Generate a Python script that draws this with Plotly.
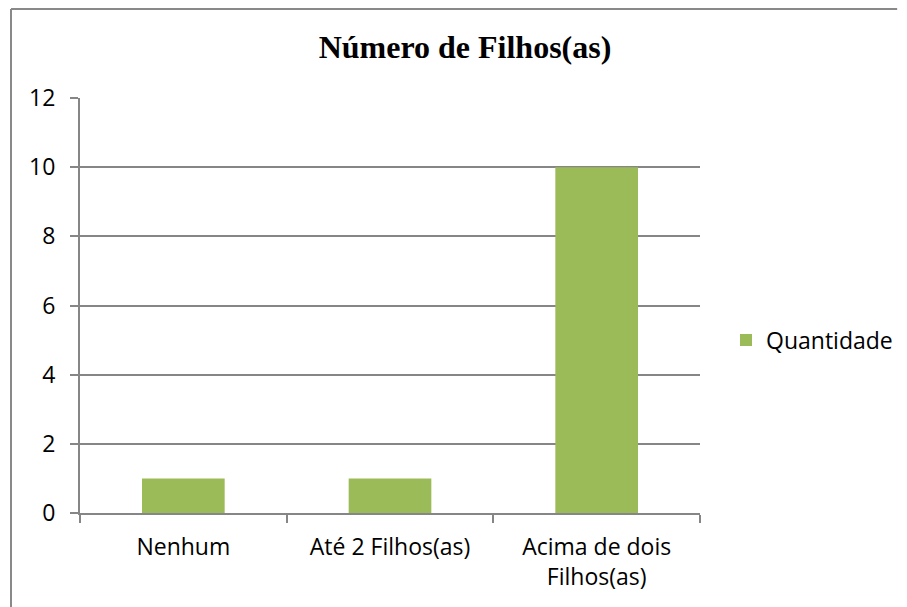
import plotly.graph_objects as go

# dados do gráfico
categorias = ["Nenhum", "Até 2 Filhos(as)", "Acima de dois<br>Filhos(as)"]
quantidade = [1, 1, 10]
y_ticks = [0, 2, 4, 6, 8, 10, 12]

# a página tem 8px de margem no body: compensar
OFF = 8
W, H = 907, 607
L, T = 80 - OFF, 98 - OFF
pw, ph = 620, 415
R, B = W - L - pw, H - T - ph

fig = go.Figure()
fig.add_trace(go.Bar(
    x=categorias, y=quantidade, name="Quantidade",
    marker=dict(color="#9BBB59", line=dict(width=0)),
))

font = "Open Sans, Liberation Sans, sans-serif"

fig.update_layout(
    width=W, height=H,
    margin=dict(l=L, r=R, t=T, b=B),
    paper_bgcolor="white", plot_bgcolor="white",
    bargap=0.6,
    showlegend=True,
    font=dict(family=font, size=23, color="black"),
    title=dict(
        text="<b>Número de Filhos(as)</b>",
        font=dict(family="Liberation Serif, Times New Roman, serif", size=32, color="black"),
        x=(465 - OFF) / W, xanchor="center", y=1 - (47 - OFF) / H, yanchor="middle",
    ),
    legend=dict(
        x=(726 - 80) / pw, xanchor="left", y=(513 - 340) / ph, yanchor="middle",
        font=dict(family=font, size=23), itemwidth=30,
        bgcolor="rgba(0,0,0,0)",
    ),
    xaxis=dict(
        showline=True, linecolor="#868686", linewidth=2,
        ticks="outside", tickson="boundaries", ticklen=8, tickcolor="#868686", tickwidth=2,
        showgrid=False, ticklabelstandoff=12, tickfont=dict(size=23),
    ),
    yaxis=dict(
        range=[0, 12], tickvals=y_ticks,
        showline=True, linecolor="#868686", linewidth=2,
        ticks="outside", ticklen=8, tickcolor="#868686", tickwidth=2,
        showgrid=True, gridcolor="#868686", gridwidth=1.5,
        zeroline=False, ticklabelstandoff=10, tickfont=dict(size=23),
    ),
)

# borda do gráfico: só a esquerda e o topo aparecem (o resto está cortado)
bx = (11 - 80) / pw
by = (T + ph - 1) / ph
borda = dict(color="#898989", width=2)
fig.add_shape(type="line", xref="paper", yref="paper", x0=bx, x1=1.318, y0=by, y1=by, line=borda)
fig.add_shape(type="line", xref="paper", yref="paper", x0=bx, x1=bx, y0=-0.3, y1=by, line=borda)

fig.write_html("out.html")
